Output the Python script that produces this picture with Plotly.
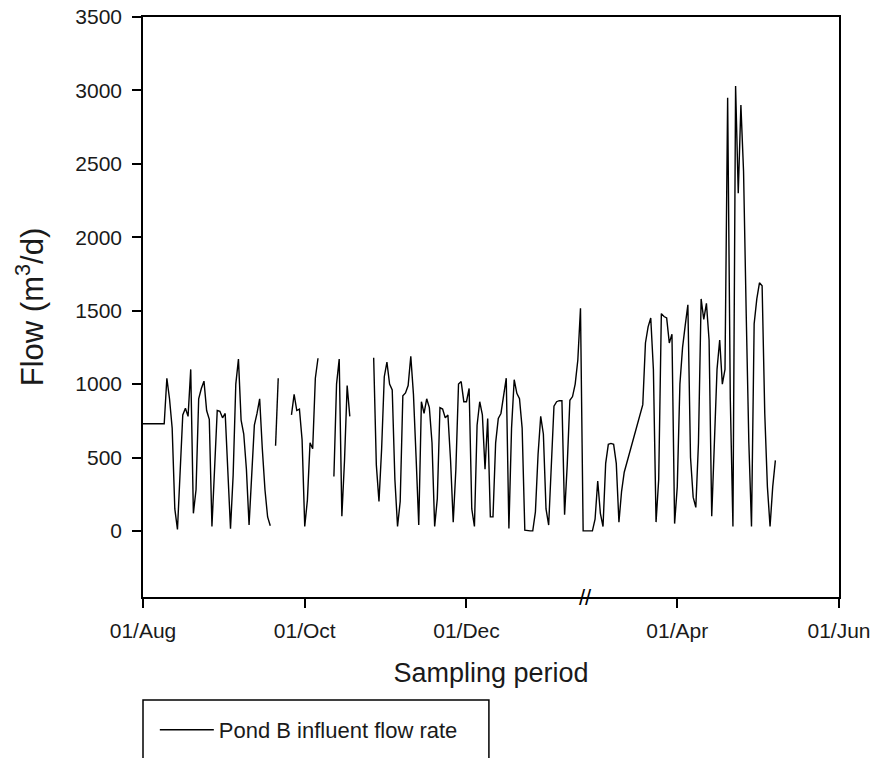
import pandas as pd
import plotly.graph_objects as go

# Pond B influent flow rate (m3/d), one value per day; None = no record that day
flow_aug = [730, 730, 730, 730, 730, 730, 730, 730, 730,
            1040, 900, 700, 150, 10, 450, 790, 835, 780, 1100, 120, 280,
            900, 970, 1020, 820, 760, 30, 400, 820, 815, 770]
flow_sep = [800, 420, 15, 380, 1000, 1170, 755, 660, 420, 40, 370, 720,
            800, 900, 560, 280, 95, 35, None, 580, 1040, None, None, None,
            None, 790, 930, 820, 830, 620]
flow_oct = [30, 210, 600, 560, 1040, 1176, None, None, None, None, None,
            370, 1000, 1170, 100, 480, 990, 780, None, None, None, None,
            None, None, None, None, 1180, 450, 200, 560, 1050]
flow_nov = [1150, 1000, 960, 350, 30, 200, 920, 940, 990, 1190, 930, 500,
            40, 880, 800, 900, 840, 600, 30, 220, 840, 830, 770, 790, 480,
            60, 420, 1000, 1017, 880]
flow_dec = [880, 970, 150, 30, 720, 880, 790, 420, 766, 96, 96, 600, 766,
            800, 930, 1040, 16, 700, 1030, 937, 900, 700, 5, 0, 0, 0, 130,
            520, 780, 660, 150]
flow_jan = [40, 480, 850, 880, 887, 887, 110, 450, 890, 915, 1000, 1164,
            1517, 0]
# spring record: 27 Feb - 12 Mar, then 19 Mar - 08 May
flow_spring_a = [0, 0, 80, 340, 120, 30, 460, 590, 596, 590, 460, 60, 270, 400]
flow_spring_b = [860, 1280, 1390, 1450, 1100, 60, 350, 1480, 1460, 1450, 1280,
                 1340, 50, 300, 1000, 1250, 1400, 1540, 500, 230, 160, 600,
                 1580, 1440, 1550, 1300, 100, 650, 1100, 1300, 1000, 1100,
                 2950, 900, 30, 3030, 2300, 2900, 2450, 1480, 600, 30, 1410,
                 1580, 1690, 1670, 800, 300, 30, 300, 480]

start_autumn = "2006-08-01"
start_spring_a = "2007-02-27"
start_spring_b = "2007-03-19"
break_bounds = ["2007-01-15", "2007-02-25 12:00"]

tick_dates = ["2006-08-01", "2006-10-01", "2006-12-01", "2007-04-01", "2007-06-01"]
y_ticks = [0, 500, 1000, 1500, 2000, 2500, 3000, 3500]

autumn = flow_aug + flow_sep + flow_oct + flow_nov + flow_dec + flow_jan
x_dates = (list(pd.date_range(start_autumn, periods=len(autumn), freq="D"))
           + list(pd.date_range(start_spring_a, periods=len(flow_spring_a), freq="D"))
           + list(pd.date_range(start_spring_b, periods=len(flow_spring_b), freq="D")))
y_flow = autumn + flow_spring_a + flow_spring_b

FONT = "Liberation Sans, Arial, sans-serif"
INK = "#1a1a1a"

fig = go.Figure()
fig.add_trace(go.Scatter(
    x=x_dates, y=y_flow, mode="lines",
    line=dict(color="black", width=1.4),
    connectgaps=False,
    name="Pond B influent flow rate",
    showlegend=True,
))

axis_common = dict(
    showline=True, linecolor="black", linewidth=1.5, mirror=True,
    ticks="outside", ticklen=9, tickwidth=1.5, tickcolor="black",
    showgrid=False, zeroline=False,
    tickfont=dict(family=FONT, size=21, color=INK),
)

fig.update_xaxes(
    type="date",
    range=["2006-08-01", "2007-06-01"],
    rangebreaks=[dict(bounds=break_bounds)],
    tickvals=tick_dates,
    tickformat="%d/%b",
    ticklabelstandoff=5,
    title=dict(text="Sampling period", font=dict(family=FONT, size=27, color=INK),
               standoff=22),
    **axis_common,
)
fig.update_yaxes(
    range=[-450, 3500],
    tickvals=y_ticks,
    ticklabelstandoff=6,
    title=dict(text="Flow (m<sup>3</sup>/d)", font=dict(family=FONT, size=31, color=INK),
               standoff=22),
    **axis_common,
)

# axis break marker on the time axis
fig.add_annotation(
    x=break_bounds[0], y=0, xref="x", yref="paper",
    text="//", showarrow=False, yanchor="middle", xanchor="center",
    font=dict(family=FONT, size=22, color="black"),
)

# legend frame
fig.add_shape(
    type="rect", xref="paper", yref="paper",
    x0=0, x1=0.497, y0=-0.30, y1=-0.1776,
    line=dict(color="black", width=1.5), fillcolor="rgba(0,0,0,0)",
)

fig.update_layout(
    width=890, height=758, autosize=False,
    margin=dict(l=143, r=51, t=17, b=161, pad=0, autoexpand=False),
    paper_bgcolor="white", plot_bgcolor="white",
    legend=dict(
        x=0.017, y=-0.193, xanchor="left", yanchor="top",
        font=dict(family=FONT, size=22, color=INK),
        bgcolor="rgba(0,0,0,0)", borderwidth=0, itemwidth=54,
    ),
    font=dict(family=FONT),
)

fig.write_html("out.html")
